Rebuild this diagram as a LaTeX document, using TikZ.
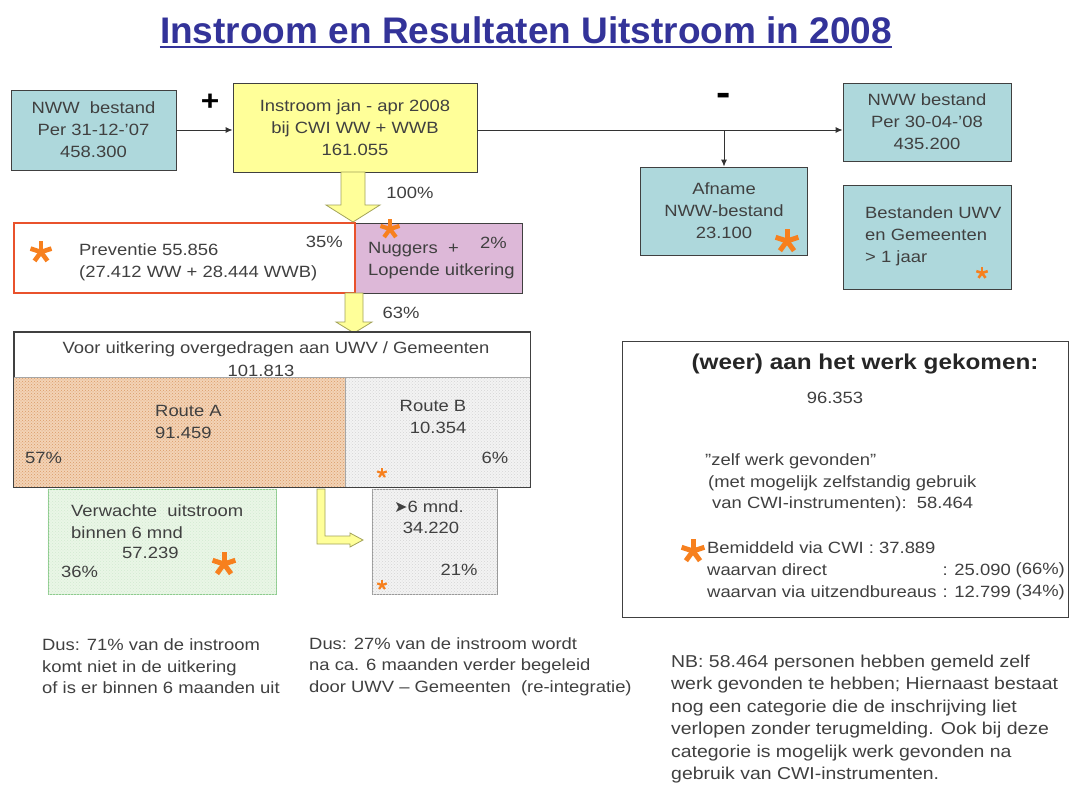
\documentclass[tikz,border=0pt]{standalone}
\usepackage{fontspec}
\setmainfont{Liberation Sans}[FakeStretch=1.13]
\newfontfamily\titlefont{Liberation Sans}
\newfontfamily\symfont{DejaVu Sans}
\usetikzlibrary{patterns,arrows.meta}
\definecolor{tealfill}{HTML}{AED8DC}
\definecolor{yel}{HTML}{FFFF99}
\definecolor{pinkfill}{HTML}{DDB8D8}
\definecolor{prevred}{HTML}{E9522C}
\definecolor{titleblue}{HTML}{333399}
\definecolor{txt}{HTML}{404040}
\definecolor{astorange}{HTML}{F7801E}
\definecolor{routeA}{HTML}{F3D3B6}
\definecolor{routeAdot}{HTML}{DA9A66}
\definecolor{lightgray}{HTML}{F3F3F3}
\definecolor{lightdot}{HTML}{D4D4D4}
\definecolor{greenfill}{HTML}{EAF6E6}
\definecolor{greenline}{HTML}{8DCB8D}
\definecolor{arrowline}{HTML}{A3A35A}
\newcommand\bodyfont{\fontsize{16.3}{22}\selectfont}
\newcommand\orast[4]{\foreach \ang in {18,90,162,234,306}{\draw[astk, line width=#4pt] (#1,#2) -- ++(\ang:#3pt);}}
\tikzset{
  box/.style={draw=black!75, line width=0.9pt, inner sep=0pt, align=center, text=txt, font=\bodyfont},
  tealbox/.style={box, fill=tealfill},
  lbl/.style={inner sep=0pt, text=txt, font=\bodyfont},
  conn/.style={draw=black!80, line width=0.9pt},
  arr/.style={conn, -{Latex[length=7pt,width=6pt]}},
  fatarrow/.style={fill=yel, draw=arrowline, line width=0.8pt, line join=miter},
  astk/.style={draw=astorange, line cap=butt},
}
\begin{document}
\begin{tikzpicture}[x=1pt,y=-1pt]
\useasboundingbox (0,0) rectangle (1071,785);
\fill[white] (0,0) rectangle (1071,785);
% title
\node[inner sep=0pt, text=titleblue, font=\titlefont\bfseries\fontsize{37}{40}\selectfont] (title) at (526,30) {Instroom en Resultaten Uitstroom in 2008};
\draw[titleblue, line width=2pt] (title.south west |- 0,47) -- (title.south east |- 0,47);
% top row
\node[tealbox, minimum width=165pt, minimum height=80pt] (nww1) at (93.5,130) {NWW\ \ bestand\\Per 31-12-'07\\458.300};
\node[box, fill=yel, minimum width=244pt, minimum height=89pt] (instr) at (355,127.5) {Instroom jan - apr 2008\\bij CWI WW + WWB\\161.055};
\node[tealbox, minimum width=168pt, minimum height=78pt] (nww2) at (927,122) {NWW bestand\\Per 30-04-'08\\435.200};
\node[tealbox, minimum width=167pt, minimum height=88pt] (afn) at (724,211) {Afname\\NWW-bestand\\23.100};
\node[tealbox, minimum width=168pt, minimum height=104pt] (best) at (927,237) {};
\node[lbl, anchor=west, align=left] (besttxt) at (865,236) {Bestanden UWV\\en Gemeenten\\> 1 jaar};
\node[inner sep=0pt, font=\bfseries\fontsize{28}{28}\selectfont] (plus) at (210,102) {+};
\node[inner sep=0pt, font=\bfseries\fontsize{38}{38}\selectfont] (minus) at (724,99) {-};
\coordinate (j) at (724,130);
\draw[arr] (nww1.east) -- (nww1.east -| instr.west);
\draw[conn] (instr.east |- j) -- (j);
\draw[arr] (j) -- (nww2.west |- j);
\draw[arr] (j) -- (afn.north);
\orast{787}{241}{12}{5}
\orast{982}{273}{6}{2.6}
% preventie row
\node[box, fill=pinkfill, minimum width=167pt, minimum height=70pt] (nug) at (438.5,258) {};
\node[box, draw=prevred, line width=2.5pt, fill=white, minimum width=341pt, minimum height=70pt] (prev) at (184.5,258) {};
\node[lbl, anchor=west, align=left] (prevtxt) at (79,262) {Preventie 55.856\\(27.412 WW + 28.444 WWB)};
\node[lbl, anchor=east] (p35) at (343,242) {35\%};
\node[lbl, anchor=west, align=left] (nugtxt) at (368,261) {Nuggers\ \ +\\Lopende uitkering};
\node[lbl, anchor=east] (p2) at (507,243) {2\%};
\orast{41}{252}{11}{4.6}
\orast{390}{229}{10}{4.2}
\draw[fatarrow] (341,172) -- (365,172) -- (365,205) -- (380,205) -- (353,222) -- (326,205) -- (341,205) -- cycle;
\node[lbl] (p100) at (410,193) {100\%};
\draw[fatarrow] (345,293) -- (363,293) -- (363,322) -- (372,322) -- (354,333) -- (336,322) -- (345,322) -- cycle;
\node[lbl] (p63) at (401,313) {63\%};
% big box
\node[box, fill=white, minimum width=516pt, minimum height=155pt] (big) at (272,409.5) {};
\fill[routeA] (14,377) rectangle (345,487);
\fill[pattern=crosshatch dots, pattern color=routeAdot] (14,377) rectangle (345,487);
\fill[lightgray] (345,377) rectangle (530,487);
\fill[pattern=crosshatch dots, pattern color=lightdot] (345,377) rectangle (530,487);
\draw[black!35, line width=0.6pt] (14,377) -- (530,377) (345,377) -- (345,487);
\draw[black!75, line width=0.9pt] (big.north west) rectangle (big.south east);
\node[lbl] (bigt1) at (276,349) {Voor uitkering overgedragen aan UWV / Gemeenten};
\node[lbl] (bigt2) at (261,371) {101.813};
\node[lbl, anchor=west, align=left] (ratxt) at (155,422) {Route A\\91.459};
\node[lbl, anchor=west] (p57) at (25,458) {57\%};
\node[lbl, align=center] (rbtxt) at (433,417) {Route B\\\ \ 10.354};
\node[lbl] (p6) at (495,458) {6\%};
\orast{382}{473}{5}{2.2}
% lower boxes
\node[box, draw=greenline, fill=greenfill, minimum width=228pt, minimum height=105pt] (grn) at (162,541.5) {};
\fill[pattern=crosshatch dots, pattern color=greenline!40] (grn.north west) rectangle (grn.south east);
\node[lbl, anchor=west, align=left] (grntxt) at (71,521.5) {Verwachte\ \ uitstroom\\binnen 6 mnd};
\node[lbl, anchor=west] (g57) at (122,553) {57.239};
\node[lbl, anchor=west] (g36) at (61,572) {36\%};
\orast{224}{564}{12}{5}
\node[box, draw=black!40, fill=lightgray, minimum width=125pt, minimum height=105pt] (gt6) at (434.5,541.5) {};
\fill[pattern=crosshatch dots, pattern color=lightdot] (gt6.north west) rectangle (gt6.south east);
\node[lbl] (gt6a) at (429,507) {{\symfont\fontsize{16}{16}\selectfont ➤}6 mnd.};
\node[lbl] (gt6b) at (431,528) {34.220};
\node[lbl] (p21) at (459,570) {21\%};
\orast{382}{585}{5}{2.2}
\draw[fatarrow] (317,489) -- (325,489) -- (325,536) -- (350,536) -- (350,533) -- (363,540) -- (350,547) -- (350,544) -- (317,544) -- cycle;
% right box
\node[box, fill=white, minimum width=446pt, minimum height=276pt] (werk) at (845,479) {};
\node[inner sep=0pt, text=black!85, font=\bfseries\fontsize{21.5}{24}\selectfont] (werkt) at (865,364) {(weer) aan het werk gekomen:};
\node[lbl] (w96) at (835,398) {96.353};
\node[lbl, anchor=west] (z1) at (705,461) {"zelf werk gevonden"};
\node[lbl, anchor=west] (z2) at (708,483) {(met mogelijk zelfstandig gebruik};
\node[lbl, anchor=west] (z3) at (712,504) {van CWI-instrumenten):\ \ 58.464};
\orast{693}{551}{12}{5}
\node[lbl, anchor=west] (bm) at (707,548) {Bemiddeld via CWI : 37.889};
\node[lbl, anchor=west] (wd) at (707,570) {waarvan direct};
\node[lbl, anchor=east] (wdn) at (1011,570) {: 25.090};
\node[lbl, anchor=east] (wdp) at (1065,570) {(66\%)};
\node[lbl, anchor=west] (wv) at (707,592) {waarvan via uitzendbureaus};
\node[lbl, anchor=east] (wvn) at (1011,592) {: 12.799};
\node[lbl, anchor=east] (wvp) at (1065,592) {(34\%)};
% bottom notes
\node[lbl, anchor=west, align=left, font=\fontsize{16.3}{21.5}\selectfont] (dus1) at (42,666.5) {Dus: 71\% van de instroom\\komt niet in de uitkering\\of is er binnen 6 maanden uit};
\node[lbl, anchor=west, align=left, font=\fontsize{16.3}{21.5}\selectfont] (dus2) at (309,666.5) {Dus: 27\% van de instroom wordt\\na ca. 6 maanden verder begeleid\\door UWV – Gemeenten\ \ (re-integratie)};
\node[lbl, anchor=west, align=left, font=\fontsize{17.2}{22.4}\selectfont] (nb) at (671,719) {NB: 58.464 personen hebben gemeld zelf\\werk gevonden te hebben; Hiernaast bestaat\\nog een categorie die de inschrijving liet\\verlopen zonder terugmelding. Ook bij deze\\categorie is mogelijk werk gevonden na\\gebruik van CWI-instrumenten.};
\end{tikzpicture}
\end{document}
